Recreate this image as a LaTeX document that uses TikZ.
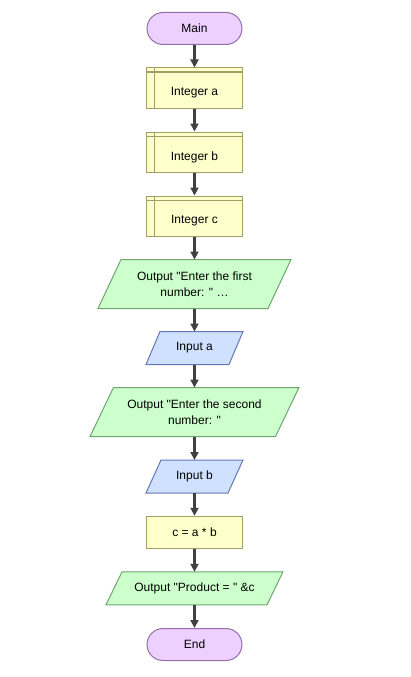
\documentclass[tikz,border=0pt]{standalone}
\usepackage{fontspec}
\setmainfont{Liberation Sans}[Ligatures=TeXOff]
\usetikzlibrary{arrows.meta,backgrounds}
\definecolor{termfill}{RGB}{238,208,255}
\definecolor{termdraw}{RGB}{150,110,165}
\definecolor{declfill}{RGB}{255,255,204}
\definecolor{decldraw}{RGB}{160,160,100}
\definecolor{outfill}{RGB}{204,255,204}
\definecolor{outdraw}{RGB}{110,165,110}
\definecolor{infill}{RGB}{208,224,255}
\definecolor{indraw}{RGB}{100,120,180}
\definecolor{arrowgray}{RGB}{64,64,64}
\newcommand\paral[3]{%
  \begin{scope}[on background layer]
  \filldraw[line width=1pt,#3] ([xshift=#2]#1.north west) -- ([xshift=#2]#1.north east)
     -- ([xshift=-#2]#1.south east) -- ([xshift=-#2]#1.south west) -- cycle;
  \end{scope}}
\newcommand\declhead[1]{%
  \draw[decldraw,line width=1pt] ([yshift=-4.5pt]#1.north west) -- ([yshift=-4.5pt]#1.north east);
  \draw[decldraw,line width=1pt] ([xshift=8pt]#1.north west) -- ([xshift=8pt]#1.south west);}
\begin{document}
\begin{tikzpicture}[x=1pt,y=-1pt,
  font=\fontsize{12}{15.5}\selectfont,
  base/.style={align=center, inner sep=0pt, line width=1pt},
  term/.style={base, draw=termdraw, fill=termfill, rounded corners=16pt, minimum width=95pt, minimum height=32pt},
  decl/.style={base, draw=decldraw, fill=declfill, minimum width=96pt, minimum height=40pt},
  proc/.style={base, draw=decldraw, fill=declfill, minimum width=96pt, minimum height=32pt},
  outbox/.style={base, minimum height=48pt},
  inbox/.style={base, minimum height=32pt},
  flow/.style={draw=arrowgray, line width=2.5pt, -{Triangle[length=8pt,width=8pt]}}]
\useasboundingbox (0,0) rectangle (410,677);

\node[term] (main) at (194.5,28.5) {Main};
\node[decl, label={[yshift=-5pt]center:Integer a}] (ia) at (194.5,88) {};
\declhead{ia}
\node[decl, label={[yshift=-5pt]center:Integer b}] (ib) at (194.5,152) {};
\declhead{ib}
\node[decl, label={[yshift=-5pt]center:Integer c}] (ic) at (194.5,216) {};
\declhead{ic}
\node[outbox, minimum width=169pt] (o1) at (194.5,284) {Output "Enter the first\\number: " …};
\paral{o1}{11.5pt}{draw=outdraw,fill=outfill}
\node[inbox, minimum width=82pt] (ina) at (194.5,348) {Input a};
\paral{ina}{7pt}{draw=indraw,fill=infill}
\node[outbox, minimum width=184.5pt] (o2) at (194.5,412) {Output "Enter the second\\number: "};
\paral{o2}{11.7pt}{draw=outdraw,fill=outfill}
\node[inbox, minimum width=81pt] (inb) at (194.5,476.5) {Input b};
\paral{inb}{7.5pt}{draw=indraw,fill=infill}
\node[proc] (calc) at (194.5,532.3) {c = a * b};
\node[inbox, minimum width=160pt] (o3) at (194.5,588.3) {Output "Product = " \&c};
\paral{o3}{8pt}{draw=outdraw,fill=outfill}
\node[term] (end) at (194.5,644.5) {End};

\draw[flow] (main) -- (ia);
\draw[flow] (ia) -- (ib);
\draw[flow] (ib) -- (ic);
\draw[flow] (ic) -- (o1);
\draw[flow] (o1) -- (ina);
\draw[flow] (ina) -- (o2);
\draw[flow] (o2) -- (inb);
\draw[flow] (inb) -- (calc);
\draw[flow] (calc) -- (o3);
\draw[flow] (o3) -- (end);
\end{tikzpicture}
\end{document}
